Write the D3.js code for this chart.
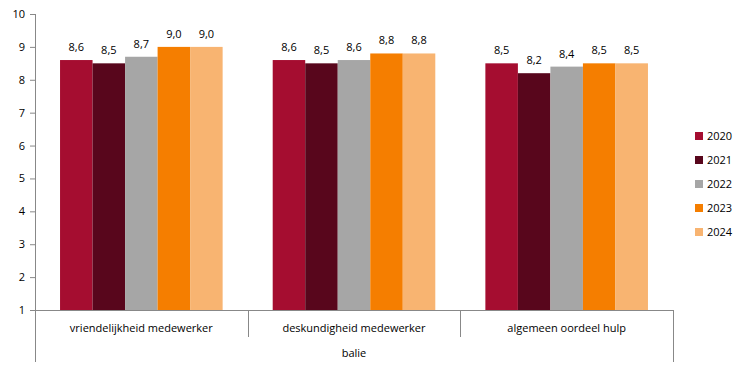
<!DOCTYPE html>
<html><head><meta charset="utf-8">
<script src="https://cdn.jsdelivr.net/npm/d3@7"></script>
<style>body{margin:0;background:#fff}svg{display:block}text{font-family:"Open Sans","Liberation Sans",sans-serif;}</style>
</head><body><svg id="c" width="746" height="369"></svg>
<script>
const categories = ["vriendelijkheid medewerker","deskundigheid medewerker","algemeen oordeel hulp"];
const groupLabel = "balie";
const years = ["2020","2021","2022","2023","2024"];
const v2020 = [8.6, 8.6, 8.5];
const v2021 = [8.5, 8.5, 8.2];
const v2022 = [8.7, 8.6, 8.4];
const v2023 = [9.0, 8.8, 8.5];
const v2024 = [9.0, 8.8, 8.5];
const colors = ["#A50D30","#58061C","#A6A6A6","#F57E00","#F8B471"];
const yTicks = [1,2,3,4,5,6,7,8,9,10];

(function(){
const series = [v2020,v2021,v2022,v2023,v2024];
const svg = d3.select("#c");
const mL = 35, mR = 673, mT = 14, mB = 310;
const y = d3.scaleLinear().domain([1,10]).range([mB, mT]);
const x0 = d3.scaleBand().domain(categories).range([mL, mR]).paddingInner(0).paddingOuter(0);
const x1 = d3.scaleBand().domain(years).range([0, x0.bandwidth()]).paddingInner(0).paddingOuter(0.77);
const axisCol = "#888";

const ya = svg.append("g").attr("transform", `translate(${mL},0)`)
  .call(d3.axisLeft(y).tickValues(yTicks).tickSize(5).tickPadding(5).tickFormat(d3.format("d")));
ya.select(".domain").remove();
ya.selectAll("line").attr("stroke", axisCol);
ya.selectAll("text").attr("font-size", 11).attr("fill", "#000");
svg.append("line").attr("x1", mL+0.5).attr("x2", mL+0.5).attr("y1", mT).attr("y2", 362).attr("stroke", axisCol);

categories.forEach((c, ci) => {
  const g = svg.append("g").attr("transform", `translate(${x0(c)},0)`);
  years.forEach((yr, si) => {
    const val = series[si][ci];
    g.append("rect").attr("x", x1(yr)).attr("width", x1.bandwidth())
      .attr("y", y(val)).attr("height", y(1) - y(val)).attr("fill", colors[si]);
    g.append("text").attr("x", x1(yr) + x1.bandwidth()/2).attr("y", y(val) - 9)
      .attr("text-anchor", "middle").attr("font-size", 11).attr("fill", "#000")
      .text(d3.format(".1f")(val).replace(".", ","));
  });
});

svg.append("line").attr("x1", mL).attr("x2", mR).attr("y1", mB+0.5).attr("y2", mB+0.5).attr("stroke", axisCol);
categories.forEach((c, ci) => {
  const xs = x0(c);
  if (ci > 0) svg.append("line").attr("x1", Math.round(xs)+0.5).attr("x2", Math.round(xs)+0.5).attr("y1", mB).attr("y2", 337).attr("stroke", axisCol);
  svg.append("text").attr("x", xs + x0.bandwidth()/2).attr("y", 332).attr("text-anchor", "middle")
    .attr("font-size", 11).attr("fill", "#000").text(c);
});
svg.append("line").attr("x1", mR+0.5).attr("x2", mR+0.5).attr("y1", mB).attr("y2", 362).attr("stroke", axisCol);
svg.append("text").attr("x", (mL+mR)/2).attr("y", 357).attr("text-anchor", "middle")
  .attr("font-size", 11).attr("fill", "#000").text(groupLabel);

years.forEach((yr, i) => {
  const ly = 136 + i*24;
  svg.append("rect").attr("x", 695).attr("y", ly-4).attr("width", 8).attr("height", 8).attr("fill", colors[i]);
  svg.append("text").attr("x", 707).attr("y", ly+4).attr("font-size", 11).attr("fill", "#000").text(yr);
});
})();
</script></body></html>
